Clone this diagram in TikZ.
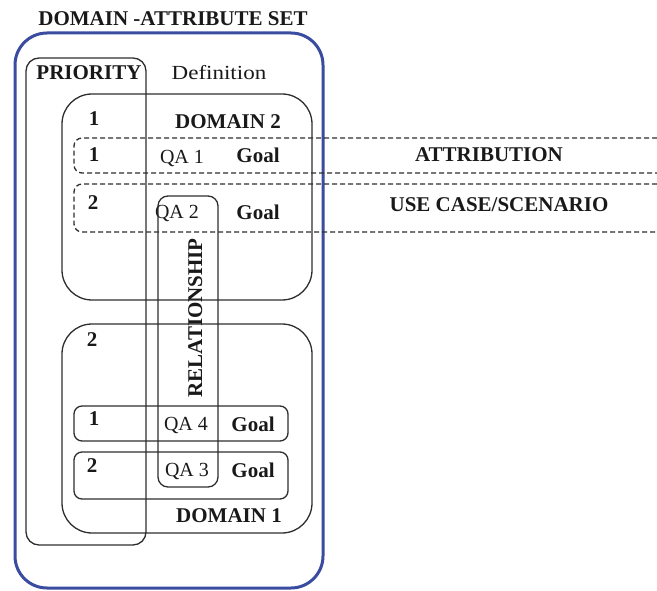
\documentclass[tikz,border=0pt]{standalone}
\usepackage{fontspec}
\setmainfont{Liberation Serif}
\begin{document}
\begin{tikzpicture}[x=1pt,y=-1pt,
  every node/.style={inner sep=0pt,outer sep=0pt,text=black!90},
  lbl/.style={font=\fontsize{21}{25}\selectfont\bfseries,anchor=base},
  reg/.style={font=\fontsize{20}{24}\selectfont,anchor=base},
  frame/.style={draw=black!82,line width=1.3pt},
  dframe/.style={draw=black!82,line width=1.3pt,dash pattern=on 5pt off 3pt},
  outer/.style={draw={rgb,255:red,58;green,76;blue,160},line width=3pt}]
\useasboundingbox (0,0) rectangle (657,591);
% outer blue frame
\draw[outer,rounded corners=32] (15,33) rectangle (323,588);
\node[lbl] (title) at (173,26) {DOMAIN -ATTRIBUTE SET};
% priority column
\draw[frame,rounded corners=13] (26,58) rectangle (146,545);
\node[lbl] (prio) at (89,80) {PRIORITY};
\node[reg] (defn) at (219,80) {\scalebox{1.15}[1]{Definition}};
% domain 2
\draw[frame,rounded corners=30] (62,94) rectangle (312,300);
\node[lbl] (d2n) at (94,126) {1};
\node[lbl] (d2) at (228,129) {DOMAIN 2};
% attribution row
\draw[dframe,rounded corners=8] (657,138) -- (74,138) -- (74,173) -- (657,173);
\node[lbl] (r1n) at (94,162) {1};
\node[reg] (qa1) at (182,164) {QA 1};
\node[lbl] (g1) at (258,163) {Goal};
\node[lbl] (attr) at (489,162) {ATTRIBUTION};
% use case row
\draw[dframe,rounded corners=8] (657,184) -- (74,184) -- (74,232) -- (657,232);
\node[lbl] (r2n) at (93,210) {2};
\node[reg] (qa2) at (177,219) {QA 2};
\node[lbl] (g2) at (258,220) {Goal};
\node[lbl] (uc) at (499,212) {USE CASE/SCENARIO};
% relationship
\draw[frame,rounded corners=10] (158,196) rectangle (218,487);
\node[lbl,rotate=90] (rel) at (202,318) {RELATIONSHIP};
% domain 1
\draw[frame,rounded corners=30] (62,324) rectangle (312,533);
\node[lbl] (d1n) at (92,347) {2};
\draw[frame,rounded corners=8] (74,406) rectangle (288,441);
\node[lbl] (r3n) at (94,425) {1};
\node[reg] (qa4) at (186,430) {QA 4};
\node[lbl] (g4) at (253,431) {Goal};
\draw[frame,rounded corners=8] (74,452) rectangle (288,499);
\node[lbl] (r4n) at (92,472) {2};
\node[reg] (qa3) at (187,476) {QA 3};
\node[lbl] (g3) at (253,477) {Goal};
\node[lbl] (d1) at (229,522) {DOMAIN 1};
\end{tikzpicture}
\end{document}
